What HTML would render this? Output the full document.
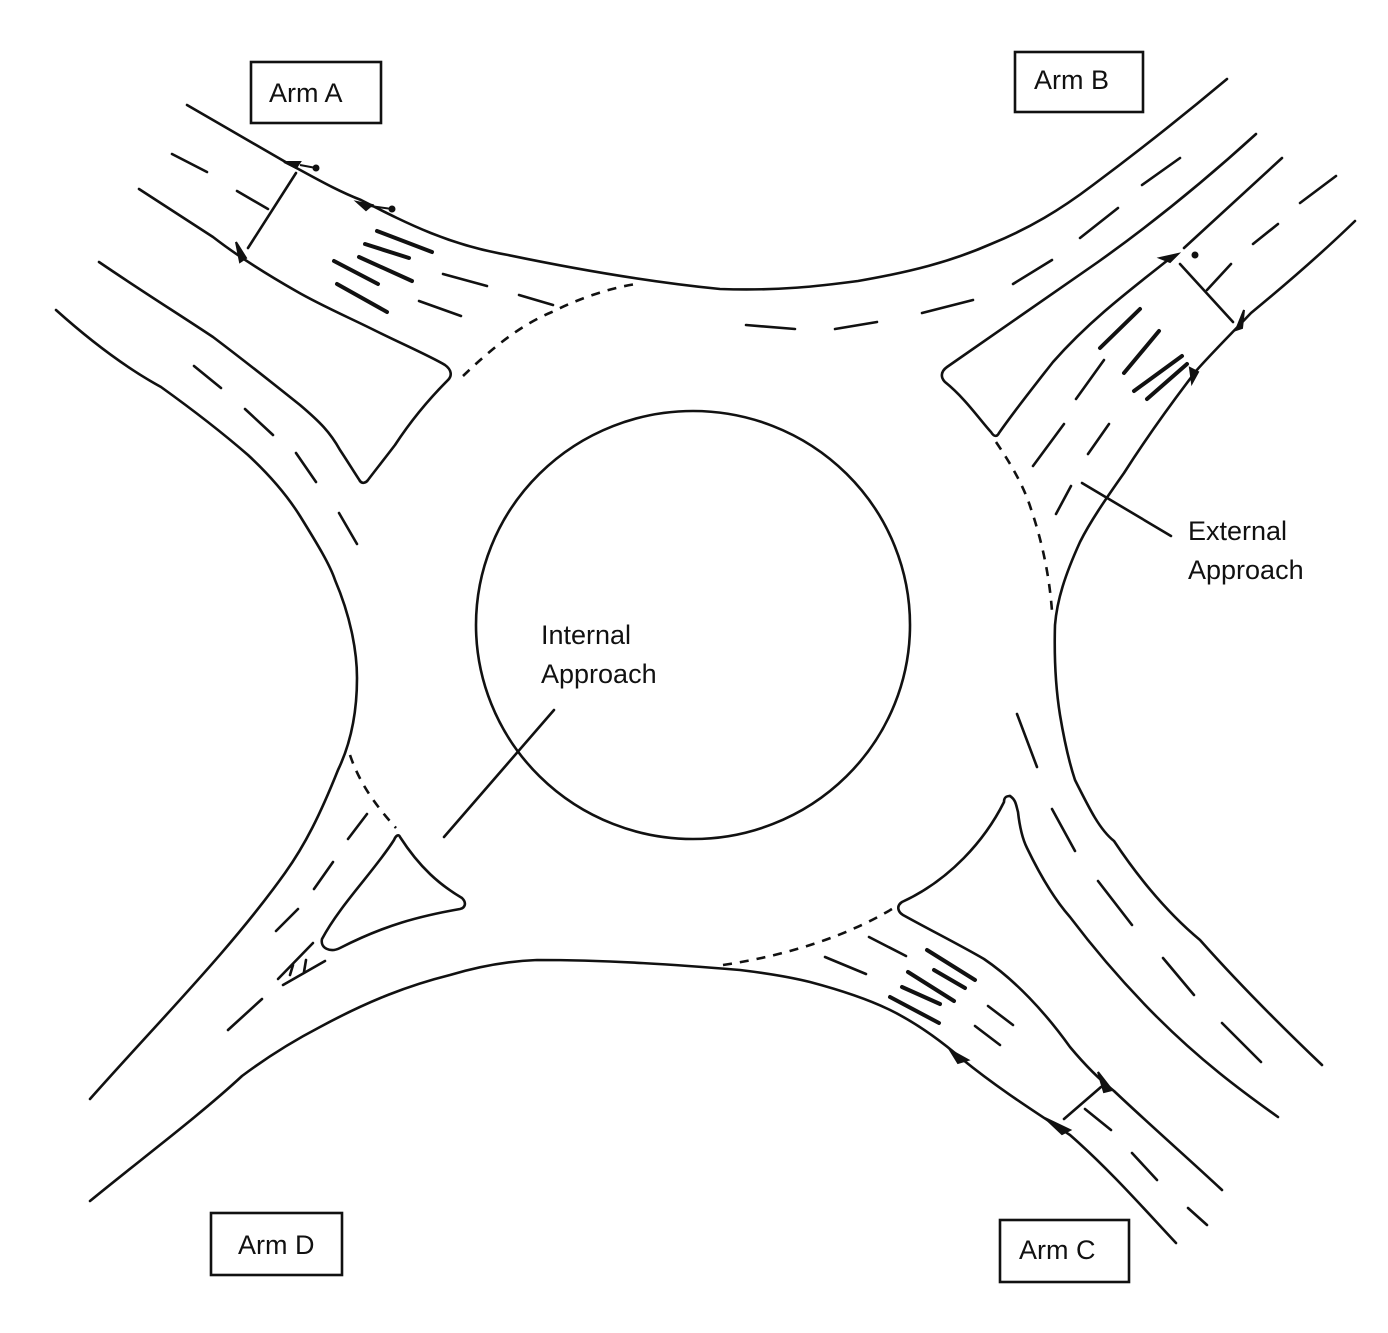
<!DOCTYPE html>
<html><head><meta charset="utf-8"><style>
html,body{margin:0;padding:0;background:#fff;}
svg{display:block;}
text{font-family:"Liberation Sans",sans-serif;font-size:27px;fill:#111;}
</style></head><body>
<svg width="1388" height="1333" viewBox="0 0 1388 1333" xmlns="http://www.w3.org/2000/svg">
<g fill="none" stroke="#111" stroke-width="2.6" stroke-linecap="round" stroke-linejoin="round">
<ellipse cx="693" cy="625" rx="217" ry="214"/>
<path d="M187,105 L289,164 C310,175 335,190 361,200 C410,225 450,245 508,255 C580,270 650,282 720,289 C780,291 820,286 858,281 C910,272 950,262 991,244 C1030,228 1060,210 1093,185 C1140,150 1190,110 1227,79"/>
<path d="M139,189 L213,237 C240,258 268,275 296,291 C320,305 350,318 374,330 C400,343 430,356 445,365 C452,370 452,376 448,380"/>
<path d="M448,380 C430,398 412,419 395,445 C382,462 374,472 368,480 C366,483 362,484 360,481"/>
<path d="M99,262 C140,290 180,315 213,337 C250,365 275,385 300,405 C320,422 330,432 340,450 C348,462 354,472 360,481"/>
<path d="M56,310 C95,345 130,370 161,387 C200,415 225,435 248,455 C275,480 290,500 300,516 C318,545 330,565 335,580 C350,615 357,650 357,678 C357,715 350,745 338,770 C320,815 305,845 285,873 C230,950 160,1020 90,1099"/>
<path d="M400,837 C420,868 440,885 462,898 C467,903 465,908 460,909 C420,916 385,925 340,948 C330,953 320,948 322,939 C340,905 375,870 394,840 C396,835 399,834 400,837 Z"/>
<path d="M90,1201 C140,1160 200,1115 242,1076 C270,1055 295,1040 320,1027 C370,1000 410,985 450,975 C480,966 510,961 537,960 C610,960 680,965 740,970 C765,973 790,977 810,982 C840,990 865,998 888,1009 C915,1022 940,1040 962,1059 C1000,1090 1040,1115 1070,1135 C1110,1170 1145,1210 1176,1243"/>
<path d="M1010,796 C1004,796 1004,800 1004,802 C985,840 950,880 902,902 C896,906 898,912 903,915 C930,930 960,945 984,959 C1015,980 1045,1012 1070,1047 C1085,1065 1100,1080 1114,1091 C1150,1125 1190,1160 1222,1190"/>
<path d="M1010,796 C1016,800 1016,805 1018,812 C1020,830 1023,840 1027,848 C1040,875 1055,900 1070,917 C1095,950 1125,985 1157,1017 C1200,1060 1240,1090 1278,1117"/>
<path d="M1355,221 C1320,255 1285,285 1251,313 C1230,335 1210,355 1196,371 C1170,405 1145,440 1124,473 C1105,500 1090,522 1080,542 C1065,575 1057,600 1055,625 C1054,660 1056,690 1060,715 C1065,745 1070,765 1075,780 C1090,810 1100,830 1114,841 C1140,880 1170,915 1200,940 C1240,985 1280,1025 1322,1065"/>
<path d="M1256,134 C1200,185 1150,225 1098,262 C1050,295 1000,330 947,367 C940,372 941,378 945,382 C965,398 980,420 991,432 C994,437 997,437 999,433 C1015,410 1035,385 1053,362 C1090,320 1130,290 1173,256"/>
<path d="M1282,158 L1184,248"/>
<path d="M1142,185 L1180,158 M1080,238 L1118,208 M1013,284 L1052,260 M922,313 L973,300 M835,329 L877,322 M746,325 L795,329"/>
<path d="M1336,176 L1300,203 M1278,224 L1253,244 M1231,264 L1207,290"/>
<path d="M172,154 L207,172 M237,191 L268,209"/>
<path d="M194,366 L221,388 M245,409 L273,435 M296,453 L316,482 M339,513 L357,544"/>
<path d="M443,274 L487,286 M519,295 L553,305 M419,301 L461,316"/>
<g stroke-width="4">
<path d="M377,231 L432,252 M365,244 L409,258 M359,257 L412,281 M334,261 L378,284 M337,284 L387,312"/>
<path d="M1140,309 L1100,348 M1159,331 L1124,373 M1182,356 L1134,391 M1187,364 L1147,399"/>
<path d="M927,950 L975,980 M934,970 L965,988 M908,972 L954,1001 M902,987 L940,1004 M890,997 L939,1023"/>
</g>
<path d="M1104,360 L1076,399 M1064,424 L1033,466 M1109,424 L1088,454 M1071,486 L1056,514"/>
<path d="M367,814 L348,839 M333,862 L314,889 M298,909 L276,931 M262,999 L228,1030"/>
<path d="M278,979 L313,943 M283,985 L325,961 M290,975 L293,965 M304,972 L306,960"/>
<path d="M869,937 L906,956 M825,957 L866,974 M988,1006 L1013,1025 M975,1026 L1000,1045 M1085,1109 L1111,1130 M1132,1153 L1157,1180 M1188,1208 L1207,1225"/>
<path d="M1017,714 L1037,767 M1052,809 L1075,851 M1098,881 L1132,925 M1163,958 L1194,995 M1222,1023 L1261,1062"/>
<path d="M296,173 L248,248"/>
<path d="M1180,264 L1233,322"/>
<path d="M1101,1087 L1064,1119"/>
<path d="M554,710 L444,837"/>
<path d="M1082,483 L1171,536"/>
</g>
<g fill="none" stroke="#111" stroke-width="2.6" stroke-dasharray="9,8">
<path d="M463,376 C490,350 520,325 552,312 C580,298 610,288 636,284"/>
<path d="M996,442 C1015,470 1025,490 1031,509 C1045,550 1050,585 1052,611"/>
<path d="M350,755 C360,785 378,808 396,828"/>
<path d="M723,965 C790,955 850,935 897,906"/>
</g>
<g fill="#111" stroke="#111" stroke-width="2">
<path d="M284,162 L300,162 L296,168 Z"/><circle cx="316" cy="168" r="2.5"/><path d="M300,165 L316,168"/>
<path d="M357,202 L372,205 L366,210 Z"/><circle cx="392" cy="209" r="2.5"/><path d="M370,206 L392,209"/>
<path d="M236,242 L246,258 L240,262 Z"/><path d="M1160,258 L1178,254 L1170,262 Z"/><circle cx="1195" cy="255" r="2.5"/>
<path d="M1244,310 L1236,330 L1242,328 Z"/><path d="M1190,368 L1198,372 L1192,383 Z"/>
<path d="M950,1050 L968,1060 L958,1063 Z"/><path d="M1098,1072 L1112,1090 L1104,1092 Z"/>
<path d="M1045,1118 L1070,1130 L1062,1134 Z"/>
</g>
<g fill="#fff" stroke="#111" stroke-width="2.6">
<rect x="251" y="62" width="130" height="61"/>
<rect x="1015" y="52" width="128" height="60"/>
<rect x="211" y="1213" width="131" height="62"/>
<rect x="1000" y="1220" width="129" height="62"/>
</g>
<text x="269" y="102">Arm A</text>
<text x="1034" y="89">Arm B</text>
<text x="238" y="1254">Arm D</text>
<text x="1019" y="1259">Arm C</text>
<text x="541" y="644">Internal</text>
<text x="541" y="683">Approach</text>
<text x="1188" y="540">External</text>
<text x="1188" y="579">Approach</text>
</svg>
</body></html>
